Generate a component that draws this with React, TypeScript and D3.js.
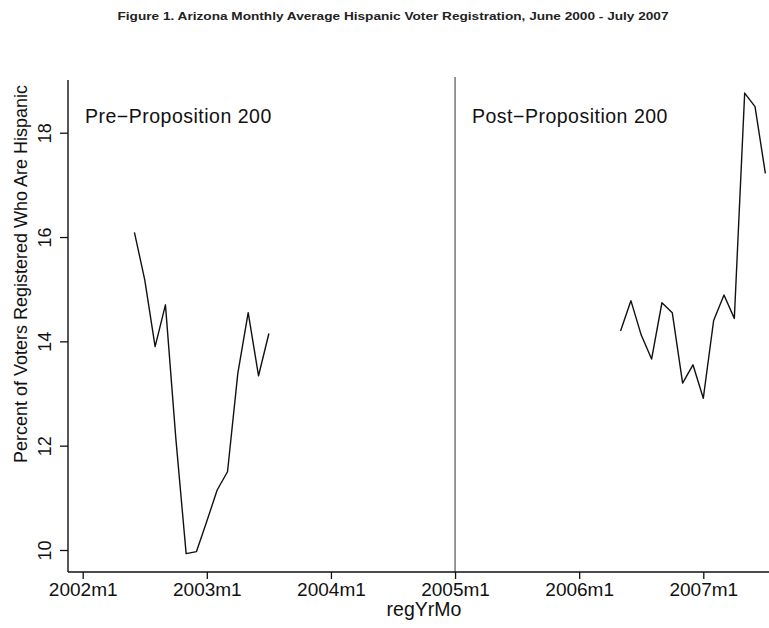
import { useEffect, useRef } from "react";
import * as d3 from "d3";

const title =
  "Figure 1. Arizona Monthly Average Hispanic Voter Registration, June 2000 - July 2007";

// pre-proposition series, monthly
const preMonths = [
  "2002m6", "2002m7", "2002m8", "2002m9", "2002m10", "2002m11", "2002m12",
  "2003m1", "2003m2", "2003m3", "2003m4", "2003m5", "2003m6", "2003m7",
];
const preValues = [
  16.09, 15.18, 13.9, 14.7, 12.15, 9.93, 9.97, 10.55, 11.15, 11.5, 13.39,
  14.55, 13.34, 14.15,
];

// post-proposition series, monthly
const postMonths = [
  "2006m5", "2006m6", "2006m7", "2006m8", "2006m9", "2006m10", "2006m11",
  "2006m12", "2007m1", "2007m2", "2007m3", "2007m4", "2007m5", "2007m6",
  "2007m7",
];
const postValues = [
  14.2, 14.78, 14.12, 13.66, 14.74, 14.55, 13.2, 13.55, 12.91, 14.4, 14.89,
  14.44, 18.76, 18.5, 17.22,
];

const xTicks = ["2002m1", "2003m1", "2004m1", "2005m1", "2006m1", "2007m1"];
const yTicks = [10, 12, 14, 16, 18];
const cutoff = "2005m1";

// "2003m7" -> months since 2002m1
const monthIndex = (s: string) => {
  const [y, m] = s.split("m").map(Number);
  return (y - 2002) * 12 + (m - 1);
};

export default function App() {
  const svgRef = useRef<SVGSVGElement | null>(null);
  const width = 769;
  const height = 628;

  useEffect(() => {
    if (!svgRef.current) return;
    const svg = d3.select(svgRef.current);
    svg.selectAll("*").remove();

    const font = "'Liberation Sans', Arial, sans-serif";
    const plotLeft = 68;
    const plotRight = 769;
    const plotTop = 80;
    const plotBottom = 572;

    const x = d3.scaleLinear().domain([0, 60]).range([82.7, 703.3]);
    const y = d3.scaleLinear().domain([10, 18]).range([550, 132.7]);

    svg.append("rect").attr("width", width).attr("height", height).attr("fill", "#fff");

    // title
    svg
      .append("text")
      .attr("x", 393)
      .attr("y", 20)
      .attr("text-anchor", "middle")
      .attr("font-family", font)
      .attr("font-size", 11)
      .attr("font-weight", 700)
      .attr("fill", "#222")
      .attr("textLength", 551)
      .attr("lengthAdjust", "spacingAndGlyphs")
      .text(title);

    // cutoff line
    svg
      .append("line")
      .attr("x1", x(monthIndex(cutoff)))
      .attr("x2", x(monthIndex(cutoff)))
      .attr("y1", 77)
      .attr("y2", plotBottom)
      .attr("stroke", "#333")
      .attr("stroke-width", 1);

    // axes
    const yAxis = d3
      .axisLeft(y)
      .tickValues(yTicks)
      .tickSize(8)
      .tickFormat((d) => String(d));
    const gy = svg.append("g").attr("transform", `translate(${plotLeft},0)`).call(yAxis);
    gy.select(".domain").remove();
    gy.selectAll(".tick line").attr("stroke", "#111").attr("stroke-width", 1.3);
    gy.selectAll(".tick text")
      .attr("font-family", font)
      .attr("font-size", 18)
      .attr("fill", "#111")
      .attr("x", null)
      .attr("dy", null)
      .attr("text-anchor", "middle")
      .attr("transform", "translate(-17,0) rotate(-90)");

    const xAxis = d3
      .axisBottom(x)
      .tickValues(xTicks.map(monthIndex))
      .tickSize(7)
      .tickFormat((_, i) => xTicks[i]);
    const gx = svg.append("g").attr("transform", `translate(0,${plotBottom})`).call(xAxis);
    gx.select(".domain").remove();
    gx.selectAll(".tick line").attr("stroke", "#111").attr("stroke-width", 1.3);
    gx.selectAll(".tick text")
      .attr("font-family", font)
      .attr("font-size", 19)
      .attr("fill", "#111")
      .attr("y", 11)
      .attr("dy", "0.71em");

    svg
      .append("line")
      .attr("x1", plotLeft)
      .attr("x2", plotLeft)
      .attr("y1", plotTop)
      .attr("y2", plotBottom)
      .attr("stroke", "#111")
      .attr("stroke-width", 1.4);
    svg
      .append("line")
      .attr("x1", plotLeft)
      .attr("x2", plotRight)
      .attr("y1", plotBottom)
      .attr("y2", plotBottom)
      .attr("stroke", "#111")
      .attr("stroke-width", 1.4);

    // axis titles
    svg
      .append("text")
      .attr("x", 424)
      .attr("y", 616)
      .attr("text-anchor", "middle")
      .attr("font-family", font)
      .attr("font-size", 19.5)
      .attr("fill", "#111")
      .text("regYrMo");

    svg
      .append("text")
      .attr("transform", "translate(27,274) rotate(-90)")
      .attr("text-anchor", "middle")
      .attr("font-family", font)
      .attr("font-size", 18)
      .attr("fill", "#111")
      .text("Percent of Voters Registered Who Are Hispanic");

    // period labels
    svg
      .append("text")
      .attr("x", 85)
      .attr("y", 123)
      .attr("font-family", font)
      .attr("font-size", 19.5)
      .attr("letter-spacing", 0.5)
      .attr("fill", "#111")
      .text("Pre\u2212Proposition 200");
    svg
      .append("text")
      .attr("x", 472)
      .attr("y", 123)
      .attr("font-family", font)
      .attr("font-size", 19.5)
      .attr("letter-spacing", 0.5)
      .attr("fill", "#111")
      .text("Post\u2212Proposition 200");

    // series
    const line = d3
      .line<[string, number]>()
      .x((d) => x(monthIndex(d[0])))
      .y((d) => y(d[1]));

    const series: [string, number][][] = [
      preMonths.map((m, i) => [m, preValues[i]]),
      postMonths.map((m, i) => [m, postValues[i]]),
    ];

    svg
      .selectAll("path.series")
      .data(series)
      .join("path")
      .attr("class", "series")
      .attr("d", (d) => line(d))
      .attr("fill", "none")
      .attr("stroke", "#111")
      .attr("stroke-width", 1.4)
      .attr("stroke-linejoin", "round");
  }, []);

  return (
    <svg
      ref={svgRef}
      width={width}
      height={height}
      style={{ position: "absolute", left: 0, top: 0 }}
    />
  );
}
